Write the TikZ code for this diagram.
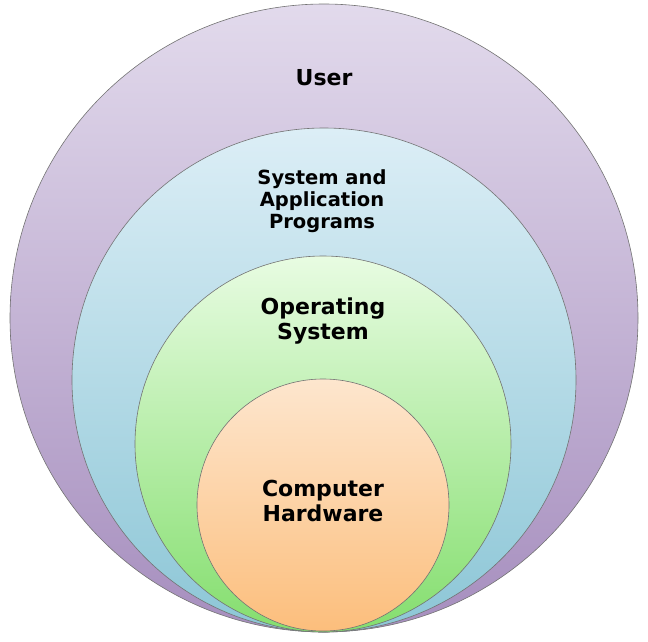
\documentclass[tikz,border=0pt]{standalone}
\usepackage{fontspec}
\setmainfont{DejaVu Sans}
\begin{document}
\begin{tikzpicture}[x=1pt,y=-1pt,
  ring/.style={draw=black!55, line width=0.6pt},
  lbl/.style={font=\bfseries, align=center, text=black}]
\useasboundingbox (0,0) rectangle (648,641);
\shade[top color={rgb,255:red,226;green,218;blue,236}, bottom color={rgb,255:red,166;green,142;blue,190}] (324,318) circle (314);
\draw[ring] (324,318) circle (314);
\shade[top color={rgb,255:red,220;green,238;blue,246}, bottom color={rgb,255:red,140;green,198;blue,214}] (324,380) circle (252);
\draw[ring] (324,380) circle (252);
\shade[top color={rgb,255:red,232;green,252;blue,226}, bottom color={rgb,255:red,132;green,222;blue,110}] (323,444) circle (188);
\draw[ring] (323,444) circle (188);
\shade[top color={rgb,255:red,253;green,230;blue,206}, bottom color={rgb,255:red,252;green,190;blue,124}] (323,505) circle (126);
\draw[ring] (323,505) circle (126);
\node[lbl, font=\bfseries\fontsize{22}{26}\selectfont] (user) at (324,78) {User};
\node[lbl, font=\bfseries\fontsize{19.5}{22}\selectfont] (sys) at (322,201) {System and\\Application\\Programs};
\node[lbl, font=\bfseries\fontsize{22}{25}\selectfont] (os) at (323,321) {Operating\\System};
\node[lbl, font=\bfseries\fontsize{22}{25}\selectfont] (hw) at (323,501) {Computer\\Hardware};
\end{tikzpicture}
\end{document}
